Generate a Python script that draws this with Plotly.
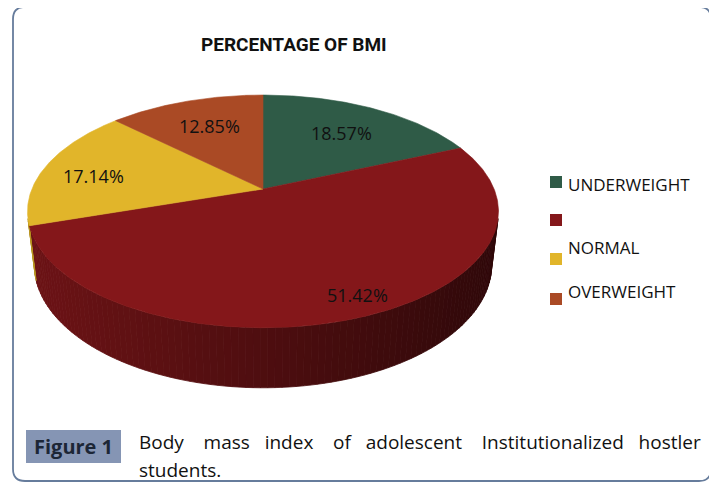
import numpy as np
import plotly.graph_objects as go

# ---------------- data ----------------
categories = ["UNDERWEIGHT", "", "NORMAL", "OVERWEIGHT"]
values = [18.57, 51.42, 17.14, 12.85]
value_labels = ["18.57%", "51.42%", "17.14%", "12.85%"]
title_text = "PERCENTAGE OF BMI"
caption_label = "Figure 1"
caption_words = ["Body", "mass", "index", "of", "adolescent", "Institutionalized", "hostler"]
caption_line2 = "students."

# ---------------- style ----------------
colors = ["#2F5B47", "#84171A", "#E1B52A", "#AA4A25"]
label_radius = [0.67, 0.87, 0.76, 0.68]
label_angle_shift = [0.5, -3.0, -4.0, 0.5]
gap_spaces = [4, 3, 4, 3, 4, 3, 4]   # justified spacing of caption line 1

W, H = 717, 486
PAGE_OFF = 8               # default body margin of the html page
# 3D pie projection parameters (pixel space)
CX, CY = 263.0, 189.0      # projected centre of the pie top
S = 231.1                  # f*R/D
K = 0.22                   # R/D (perspective strength)
ELEV = np.radians(29.0)    # elevation of the view
THICK = 0.268              # thickness / radius


def proj(X, Y, Z):
    X, Y, Z = np.asarray(X, float), np.asarray(Y, float), np.asarray(Z, float)
    d = 1 + K * (Y * np.cos(ELEV) - Z * np.sin(ELEV))
    sx = CX + S * X / d
    sy = CY - S * (Y * np.sin(ELEV) + Z * np.cos(ELEV)) / d
    return sx, sy


def rim(theta_deg, r=1.0, z=0.0):
    t = np.radians(theta_deg)
    return proj(r * np.sin(t), r * np.cos(t), np.full_like(t, z, dtype=float))


def hex_rgb(h):
    h = h.lstrip("#")
    return tuple(int(h[i:i + 2], 16) for i in (0, 2, 4))


def shade(h, f):
    r, g, b = hex_rgb(h)
    return "rgb(%d,%d,%d)" % (round(r * f), round(g * f), round(b * f))


total = float(sum(values))
ends = np.cumsum(values) / total * 360.0
starts = np.concatenate([[0.0], ends[:-1]])

fig = go.Figure()

# ---- side wall (front facing part only) ----
tf = np.degrees(np.arccos(-K / np.cos(ELEV)))
front_lo, front_hi = tf, 360.0 - tf
wx_lo, _ = rim(np.array([front_hi]))
wx_hi, _ = rim(np.array([front_lo]))
step = 1.5
for i, (a0, a1) in enumerate(zip(starts, ends)):
    lo, hi = max(a0, front_lo), min(a1, front_hi)
    if hi <= lo:
        continue
    n = max(1, int(np.ceil((hi - lo) / step)))
    edges = np.linspace(lo, hi, n + 1)
    for t0, t1 in zip(edges[:-1], edges[1:]):
        ts = np.linspace(t0, t1, 4)
        tx, ty = rim(ts, 1.0, 0.0)
        bx, by = rim(ts[::-1], 1.0, -THICK)
        xs = np.concatenate([tx, bx, tx[:1]])
        ys = np.concatenate([ty, by, ty[:1]])
        frac = (np.mean(tx) - wx_lo[0]) / (wx_hi[0] - wx_lo[0])
        f = 0.82 - 0.46 * np.clip(frac, 0, 1)
        c = shade(colors[i], f)
        fig.add_trace(go.Scatter(x=xs, y=ys, mode="lines", fill="toself",
                                 fillcolor=c, line=dict(color=c, width=0.8),
                                 hoverinfo="skip", showlegend=False))

# ---- top surface slices ----
for i, (a0, a1) in enumerate(zip(starts, ends)):
    ts = np.linspace(a0, a1, max(3, int((a1 - a0) / 0.5) + 1))
    ax_, ay_ = rim(ts)
    cx0, cy0 = proj([0.0], [0.0], [0.0])
    xs = np.concatenate([cx0, ax_, cx0])
    ys = np.concatenate([cy0, ay_, cy0])
    fig.add_trace(go.Scatter(x=xs, y=ys, mode="lines", fill="toself",
                             fillcolor=colors[i], line=dict(color=colors[i], width=0.6),
                             name=categories[i], text=value_labels[i],
                             hoverinfo="text", showlegend=False))

# ---- data labels ----
annotations = []
for i, (a0, a1) in enumerate(zip(starts, ends)):
    mid = (a0 + a1) / 2 + label_angle_shift[i]
    lx, ly = rim(np.array([mid]), label_radius[i])
    annotations.append(dict(x=float(lx[0]), y=float(ly[0]), xref="x", yref="y",
                            text=value_labels[i], showarrow=False,
                            font=dict(family="Open Sans", size=18, color="#111111")))

# ---- title ----
annotations.append(dict(x=294, y=44, xref="x", yref="y", text="<b>%s</b>" % title_text,
                        showarrow=False,
                        font=dict(family="Roboto", size=19, color="#111111")))

# ---- legend (manual) ----
shapes = []
legend_sq_y = [176, 214, 253, 293]
legend_txt_y = [184.5, 220, 247, 291]
for i, cat in enumerate(categories):
    shapes.append(dict(type="rect", xref="x", yref="y", x0=550, x1=562,
                       y0=legend_sq_y[i], y1=legend_sq_y[i] + 12,
                       fillcolor=colors[i], line=dict(width=0)))
    if cat:
        annotations.append(dict(x=566, y=legend_txt_y[i], xref="x", yref="y", text=cat,
                                xanchor="left", showarrow=False,
                                font=dict(family="Open Sans", size=17, color="#111111")))

# ---- frame ----
x0, x1, y0, y1, r = 13, 711, 7, 481, 12
path = (f"M {x0+r},{y0} L {x1-r},{y0} Q {x1},{y0} {x1},{y0+r} L {x1},{y1-r} "
        f"Q {x1},{y1} {x1-r},{y1} L {x0+r},{y1} Q {x0},{y1} {x0},{y1-r} "
        f"L {x0},{y0+r} Q {x0},{y0} {x0+r},{y0} Z")
shapes.append(dict(type="path", xref="x", yref="y", path=path,
                   line=dict(color="#667c9c", width=1.8), fillcolor="rgba(0,0,0,0)"))

# ---- caption ----
shapes.append(dict(type="rect", xref="x", yref="y", x0=26, x1=121, y0=430, y1=463,
                   fillcolor="#8595B4", line=dict(width=0)))
annotations.append(dict(x=73.5, y=446.5, xref="x", yref="y", text="<b>%s</b>" % caption_label,
                        showarrow=False,
                        font=dict(family="Open Sans", size=20, color="#1c2636")))
line1 = caption_words[0]
for g, w in zip(gap_spaces, caption_words[1:]):
    line1 += "\u00a0" * g + w
annotations.append(dict(x=137, y=442, xref="x", yref="y", text=line1,
                        xanchor="left", showarrow=False,
                        font=dict(family="Open Sans", size=19, color="#111111")))
annotations.append(dict(x=137, y=470, xref="x", yref="y", text=caption_line2,
                        xanchor="left", showarrow=False,
                        font=dict(family="Open Sans", size=19, color="#111111")))

fig.update_layout(
    width=W - PAGE_OFF, height=H - PAGE_OFF, margin=dict(l=0, r=0, t=0, b=0),
    paper_bgcolor="white", plot_bgcolor="white", showlegend=False,
    xaxis=dict(range=[PAGE_OFF, W], visible=False, fixedrange=True),
    yaxis=dict(range=[H, PAGE_OFF], visible=False, fixedrange=True),
    shapes=shapes, annotations=annotations,
)

fig.write_html("out.html")
